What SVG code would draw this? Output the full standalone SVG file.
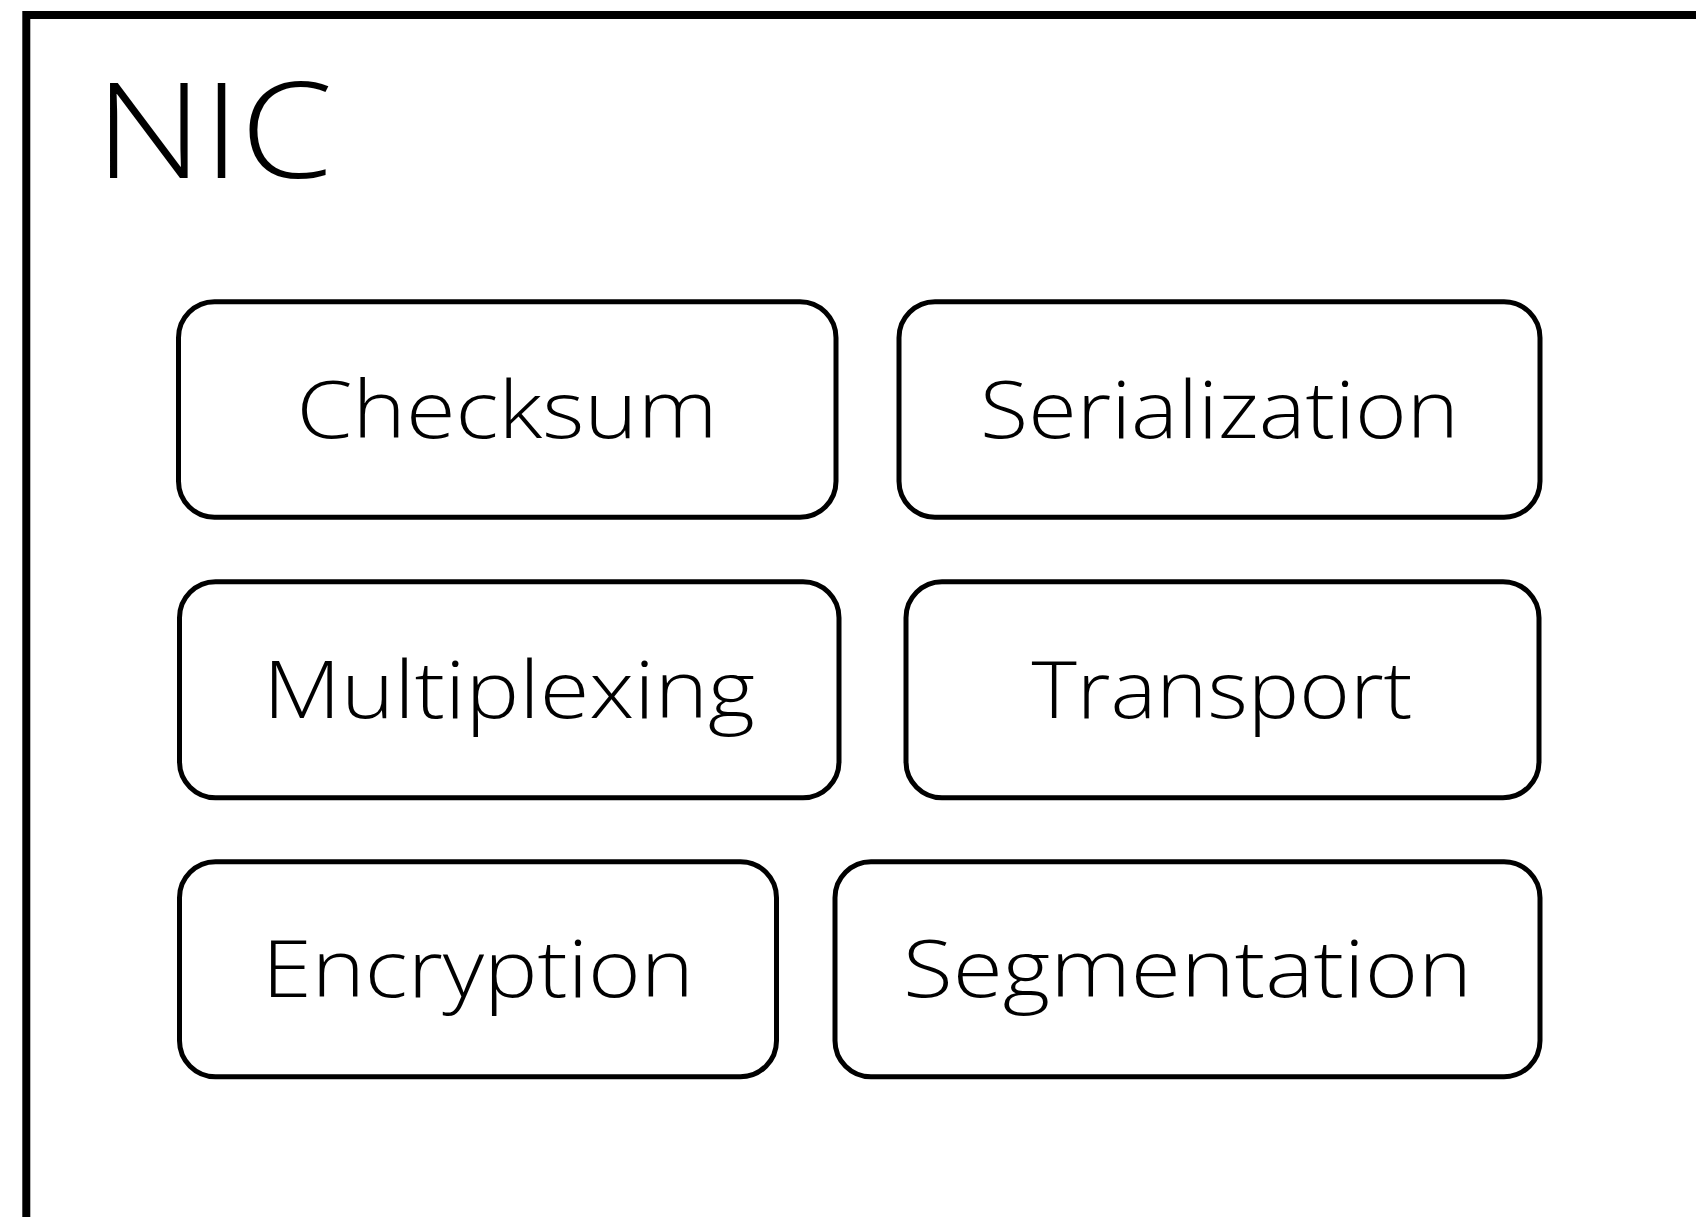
<svg xmlns="http://www.w3.org/2000/svg" width="1696" height="1217" viewBox="0 0 1696 1217">
  <style>
    .frame { fill: none; stroke: #000; stroke-width: 8; }
    .box { fill: #fff; stroke: #000; stroke-width: 5; }
    .lbl { font-family: "Open Sans", "Noto Sans", sans-serif; font-weight: 360; font-size: 79px; fill: #000; text-anchor: middle; }
    .title { font-family: "Open Sans", "Noto Sans", sans-serif; font-weight: 360; font-size: 133px; fill: #000; }
  </style>
  <rect x="0" y="0" width="1696" height="1217" fill="#fff"/>
  <g id="nic">
    <rect class="frame" x="26.3" y="15" width="1720" height="1260"/>
    <text class="title" x="95" y="178.3" textLength="238" lengthAdjust="spacingAndGlyphs">NIC</text>
  </g>
  <g id="checksum">
    <rect class="box" x="178.5" y="301.7" width="657.5" height="215.5" rx="36"/>
    <text class="lbl" x="507" y="437.7" textLength="421" lengthAdjust="spacingAndGlyphs">Checksum</text>
  </g>
  <g id="serialization">
    <rect class="box" x="899" y="301.7" width="641" height="215.5" rx="36"/>
    <text class="lbl" x="1219.5" y="437.7" textLength="479" lengthAdjust="spacingAndGlyphs">Serialization</text>
  </g>
  <g id="multiplexing">
    <rect class="box" x="179.5" y="581.7" width="659.5" height="216" rx="36"/>
    <text class="lbl" x="509" y="717.7" textLength="492" lengthAdjust="spacingAndGlyphs">Multiplexing</text>
  </g>
  <g id="transport">
    <rect class="box" x="906" y="581.7" width="633" height="216" rx="36"/>
    <text class="lbl" x="1222" y="717.7" textLength="381" lengthAdjust="spacingAndGlyphs">Transport</text>
  </g>
  <g id="encryption">
    <rect class="box" x="179.5" y="861.7" width="597" height="215" rx="36"/>
    <text class="lbl" x="478" y="997" textLength="432" lengthAdjust="spacingAndGlyphs">Encryption</text>
  </g>
  <g id="segmentation">
    <rect class="box" x="835" y="861.7" width="705" height="215" rx="36"/>
    <text class="lbl" x="1187.5" y="997" textLength="569" lengthAdjust="spacingAndGlyphs">Segmentation</text>
  </g>
  <g id="connectors"/>
</svg>
